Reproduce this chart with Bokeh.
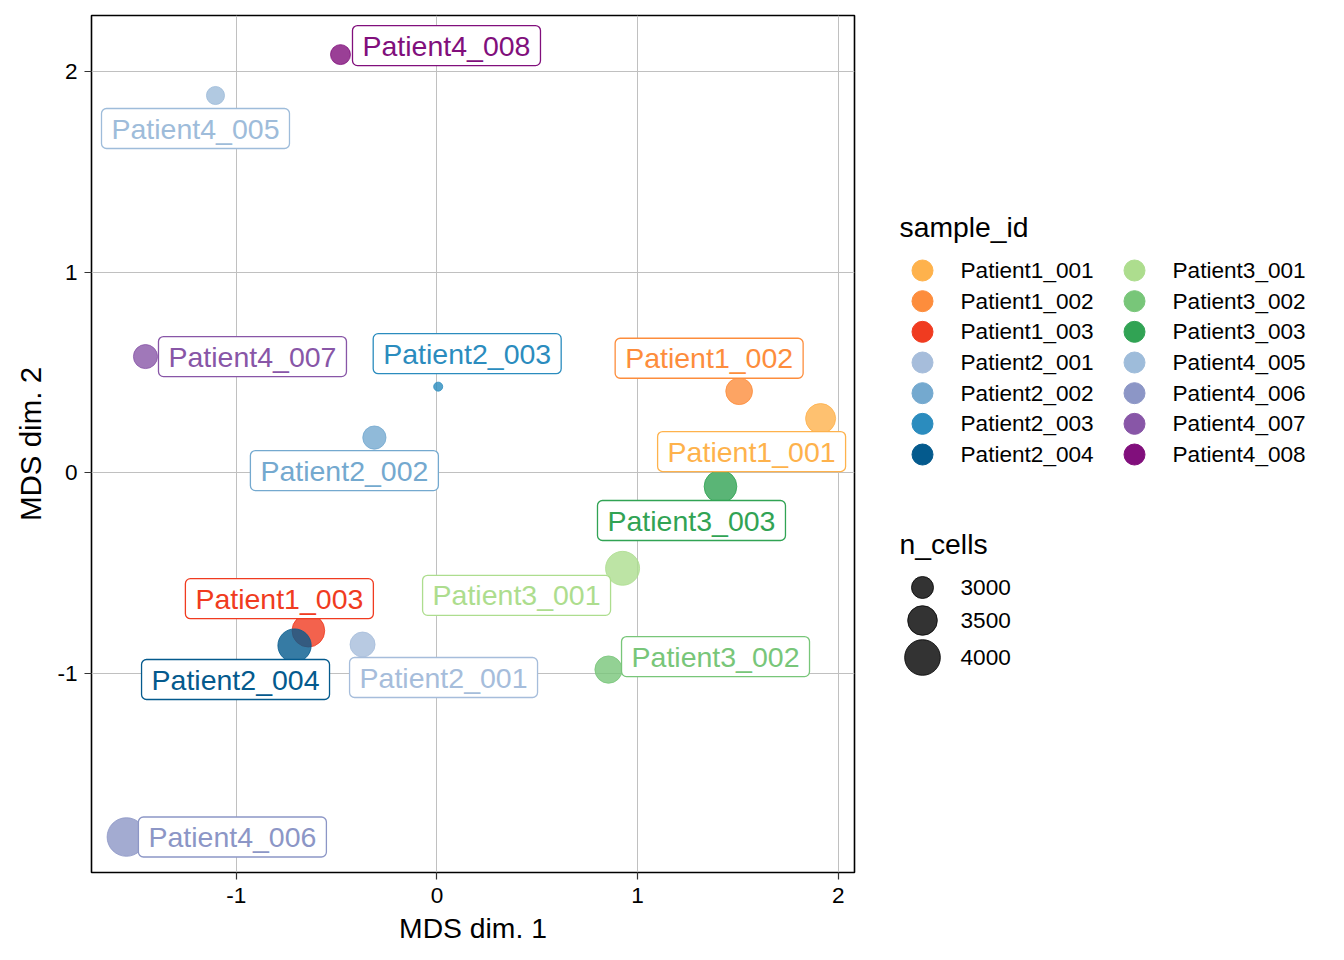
import math
from bokeh.plotting import figure
from bokeh.models import ColumnDataSource, Range1d, FixedTicker, CustomJSTickFormatter
from bokeh.layouts import row
from bokeh.core.properties import value
from bokeh.embed import file_html
from bokeh.resources import INLINE

# ---------------- data ----------------
sample_ids = ["Patient1_001", "Patient1_002", "Patient1_003",
              "Patient2_001", "Patient2_002", "Patient2_003", "Patient2_004",
              "Patient3_001", "Patient3_002", "Patient3_003",
              "Patient4_005", "Patient4_006", "Patient4_007", "Patient4_008"]
mds_dim1 = [1.912, 1.506, -0.641, -0.371, -0.312, 0.006, -0.710,
            0.925, 0.855, 1.413, -1.104, -1.548, -1.453, -0.481]
mds_dim2 = [0.271, 0.407, -0.787, -0.856, 0.176, 0.430, -0.861,
            -0.476, -0.981, -0.068, 1.882, -1.816, 0.580, 2.086]
n_cells = [3530, 3290, 3740, 3180, 3070, 2490, 3790,
           3850, 3330, 3740, 2800, 4270, 3120, 2890]
sample_colors = ["#FEB24C", "#FD8D3C", "#F03B20",
                 "#A6BDDB", "#74A9CF", "#2B8CBE", "#045A8D",
                 "#ADDD8E", "#78C679", "#31A354",
                 "#9EBCDA", "#8C96C6", "#8856A7", "#810F7C"]
size_breaks = [3000, 3500, 4000]
x_ticks = [-1, 0, 1, 2]
y_ticks = [-1, 0, 1, 2]

# label placement (repelled), screen-pixel offsets from each point
label_dx = [-69, -30, -29, 81, -30, 29, -59, -106, 107, -29, -20, 106, 107, 106]
label_dy = [33, -33, -32, 33, 33, -33, 34, 27, -13, 34, 33, 0, 0, -9]

FONT = "Liberation Sans"

# shared vertical geometry for both panels
BORDER_TOP = 15
BORDER_BOTTOM = 80
FRAME_H = 857
BORDER_LEFT = 91
FRAME_W = 763
BORDER_RIGHT = 8


def marker_diameter(v):
    # area-proportional size scale
    return math.sqrt(max(0.79 * (v - 2387.0), 16.0))


# ---------------- main panel ----------------
p = figure(title=None, frame_width=FRAME_W, frame_height=FRAME_H,
           min_border_left=BORDER_LEFT, min_border_top=BORDER_TOP,
           min_border_right=BORDER_RIGHT, min_border_bottom=BORDER_BOTTOM,
           x_range=Range1d(-1.722, 2.081), y_range=Range1d(-1.993, 2.281),
           output_backend="svg", toolbar_location=None)

p.background_fill_color = "white"
p.outline_line_color = "black"
p.outline_line_width = 1.6
p.grid.grid_line_color = "#C0C0C0"
p.grid.grid_line_width = 1
tick_fmt = CustomJSTickFormatter(code="return tick.toString();")
p.xaxis.ticker = FixedTicker(ticks=x_ticks)
p.yaxis.ticker = FixedTicker(ticks=y_ticks)
p.xaxis.formatter = tick_fmt
p.yaxis.formatter = tick_fmt
p.grid[0].ticker = FixedTicker(ticks=x_ticks)
p.grid[1].ticker = FixedTicker(ticks=y_ticks)
for ax in (p.xaxis, p.yaxis):
    ax.axis_line_color = None
    ax.major_tick_in = 0
    ax.major_tick_out = 7
    ax.major_tick_line_color = "#333333"
    ax.major_tick_line_width = 1.2
    ax.minor_tick_line_color = None
    ax.major_label_text_font = FONT
    ax.major_label_text_font_size = "22.6px"
    ax.major_label_text_color = "black"
    ax.axis_label_text_font = FONT
    ax.axis_label_text_font_style = "normal"
    ax.axis_label_text_color = "black"
p.xaxis.axis_label = "MDS dim. 1"
p.yaxis.axis_label = "MDS dim. 2"
p.xaxis.axis_label_text_font_size = "28.3px"
p.yaxis.axis_label_text_font_size = "29.5px"
p.xaxis.major_label_standoff = 8
p.yaxis.major_label_standoff = 7
p.xaxis.axis_label_standoff = 6
p.yaxis.axis_label_standoff = 7
p.yaxis.major_label_orientation = "horizontal"

src = ColumnDataSource(dict(
    x=mds_dim1, y=mds_dim2, sid=sample_ids, color=sample_colors,
    size=[marker_diameter(v) for v in n_cells],
    dx=label_dx, dy=label_dy,
))

p.scatter("x", "y", source=src, size="size", fill_color="color",
          line_color="color", fill_alpha=0.8, line_alpha=0.8, line_width=1)

p.text("x", "y", text="sid", source=src, x_offset="dx", y_offset="dy",
       text_color="color", text_font=value(FONT), text_font_size="28.5px",
       text_align="center", text_baseline="middle",
       background_fill_color="white", background_fill_alpha=1.0,
       border_line_color="color", border_line_width=1.3,
       padding=(10, 4), border_radius=5)

# ---------------- legend panel (page-pixel coordinates) ----------------
LX0 = BORDER_LEFT + FRAME_W + BORDER_RIGHT
LW = 1328 - LX0
leg = figure(frame_width=LW, frame_height=FRAME_H,
             min_border_left=0, min_border_right=0,
             min_border_top=BORDER_TOP, min_border_bottom=BORDER_BOTTOM,
             x_range=Range1d(LX0, LX0 + LW),
             y_range=Range1d(BORDER_TOP + FRAME_H, BORDER_TOP),
             output_backend="svg", toolbar_location=None,
             x_axis_location=None, y_axis_location=None)
leg.grid.visible = False
leg.outline_line_color = None

# sample_id legend
n_rows = 7
row_step = 30.67
row0 = 270
col_glyph = [922, 1134]
col_text = [960, 1172]
lx, ly, tx = [], [], []
for i in range(len(sample_ids)):
    c, r = divmod(i, n_rows)
    lx.append(col_glyph[c])
    ly.append(row0 + r * row_step)
    tx.append(col_text[c])
lsrc = ColumnDataSource(dict(x=lx, y=ly, tx=tx, sid=sample_ids, color=sample_colors))
leg.scatter("x", "y", source=lsrc, size=21, fill_color="color", line_color="color")
leg.text("tx", "y", text="sid", source=lsrc, text_font=value(FONT),
         text_font_size="22.6px", text_color="black", text_baseline="middle",
         text_align="left")
leg.text([899], [226], text=["sample_id"], text_font=value(FONT),
         text_font_size="28.3px", text_color="black", text_baseline="middle",
         text_align="left")

# n_cells legend
size_rows_y = [587, 620, 657]
ssrc = ColumnDataSource(dict(
    x=[922] * len(size_breaks), y=size_rows_y, tx=[960] * len(size_breaks),
    lab=[str(b) for b in size_breaks],
    size=[marker_diameter(b) for b in size_breaks],
))
leg.scatter("x", "y", source=ssrc, size="size", fill_color="black",
            line_color="black", fill_alpha=0.8, line_alpha=0.8, line_width=1)
leg.text("tx", "y", text="lab", source=ssrc, text_font=value(FONT),
         text_font_size="22.6px", text_color="black", text_baseline="middle",
         text_align="left")
leg.text([899], [543], text=["n_cells"], text_font=value(FONT),
         text_font_size="28.3px", text_color="black", text_baseline="middle",
         text_align="left")

layout = row(p, leg)
open("out.html", "w").write(file_html(layout, INLINE))
